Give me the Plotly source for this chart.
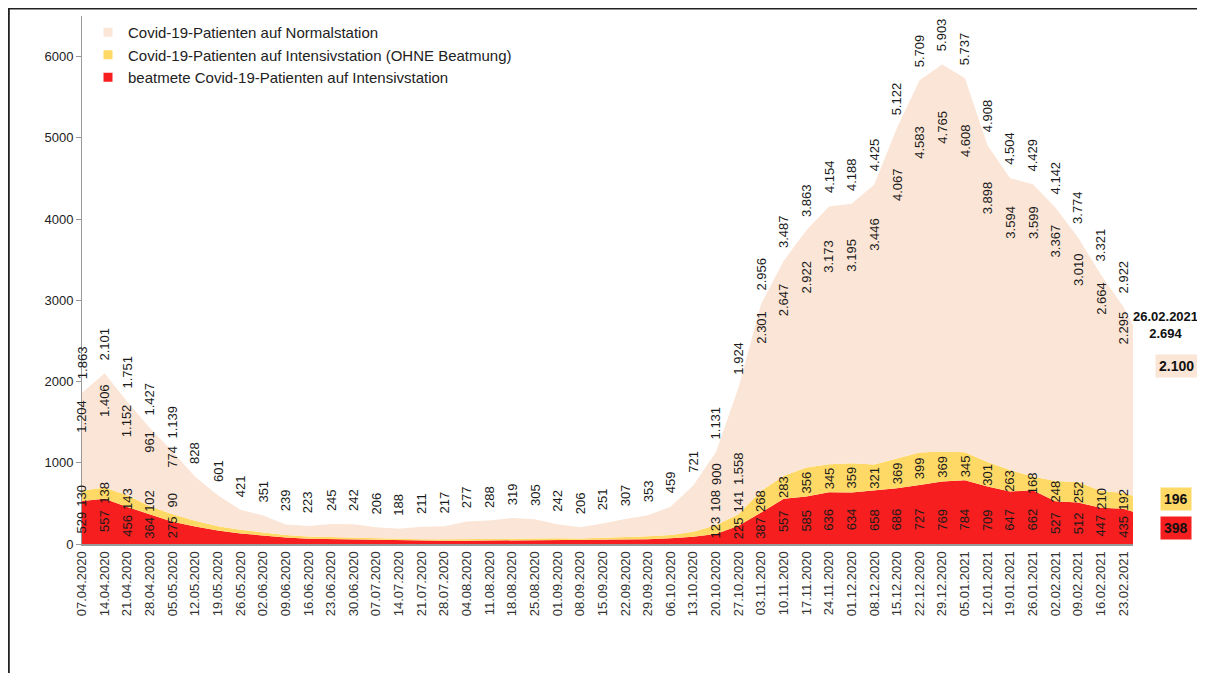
import plotly.graph_objects as go

# ---------------- data ----------------
dates = ["2020-04-07", "2020-04-14", "2020-04-21", "2020-04-28", "2020-05-05",
         "2020-05-12", "2020-05-19", "2020-05-26", "2020-06-02", "2020-06-09",
         "2020-06-16", "2020-06-23", "2020-06-30", "2020-07-07", "2020-07-14",
         "2020-07-21", "2020-07-28", "2020-08-04", "2020-08-11", "2020-08-18",
         "2020-08-25", "2020-09-01", "2020-09-08", "2020-09-15", "2020-09-22",
         "2020-09-29", "2020-10-06", "2020-10-13", "2020-10-20", "2020-10-27",
         "2020-11-03", "2020-11-10", "2020-11-17", "2020-11-24", "2020-12-01",
         "2020-12-08", "2020-12-15", "2020-12-22", "2020-12-29", "2021-01-05",
         "2021-01-12", "2021-01-19", "2021-01-26", "2021-02-02", "2021-02-09",
         "2021-02-16", "2021-02-23", "2021-02-26"]

beatmet = [529, 557, 456, 364, 275,
           215, 165, 130, 105, 80, 65, 60, 55, 50, 45, 40, 40, 40, 42, 45, 45, 45, 45, 48, 55, 60, 70, 90,
           123, 225, 387, 557, 585, 636, 634, 658, 686, 727, 769, 784, 709, 647, 662, 527, 512, 447, 435,
           398]

intensiv_ohne = [130, 138, 143, 102, 90,
                 70, 55, 45, 38, 30, 28, 25, 22, 20, 20, 20, 20, 22, 25, 30, 30, 25, 22, 25, 30, 35, 40, 60,
                 108, 141, 268, 283, 356, 345, 359, 321, 369, 399, 369, 345, 301, 263, 168, 248, 252, 210, 192,
                 196]

normalstation = [1204, 1406, 1152, 961, 774,
                 543, 381, 246, 208, 129, 130, 160, 165, 136, 123, 151, 157, 215, 221, 244, 230, 172, 139,
                 178, 222, 258, 349, 571,
                 900, 1558, 2301, 2647, 2922, 3173, 3195, 3446, 4067, 4583, 4765, 4608, 3898, 3594, 3599,
                 3367, 3010, 2664, 2295,
                 2100]

gesamt = [1863, 2101, 1751, 1427, 1139,
          828, 601, 421, 351, 239, 223, 245, 242, 206, 188, 211, 217, 277, 288, 319, 305, 242, 206, 251,
          307, 353, 459, 721,
          1131, 1924, 2956, 3487, 3863, 4154, 4188, 4425, 5122, 5709, 5903, 5737, 4908, 4504, 4429, 4142,
          3774, 3321, 2922,
          2694]

# which weekly points carry the three detail labels (others show only the total)
detail_labeled = [True] * 5 + [False] * 23 + [True] * 19

tick_dates = dates[:-1]
tick_labels = ["07.04.2020", "14.04.2020", "21.04.2020", "28.04.2020", "05.05.2020", "12.05.2020",
               "19.05.2020", "26.05.2020", "02.06.2020", "09.06.2020", "16.06.2020", "23.06.2020",
               "30.06.2020", "07.07.2020", "14.07.2020", "21.07.2020", "28.07.2020", "04.08.2020",
               "11.08.2020", "18.08.2020", "25.08.2020", "01.09.2020", "08.09.2020", "15.09.2020",
               "22.09.2020", "29.09.2020", "06.10.2020", "13.10.2020", "20.10.2020", "27.10.2020",
               "03.11.2020", "10.11.2020", "17.11.2020", "24.11.2020", "01.12.2020", "08.12.2020",
               "15.12.2020", "22.12.2020", "29.12.2020", "05.01.2021", "12.01.2021", "19.01.2021",
               "26.01.2021", "02.02.2021", "09.02.2021", "16.02.2021", "23.02.2021"]
last_date_label = "26.02.2021"

names = ["beatmete Covid-19-Patienten auf Intensivstation",
         "Covid-19-Patienten auf Intensivstation (OHNE Beatmung)",
         "Covid-19-Patienten auf Normalstation"]

# ---------------- styles ----------------
C_RED = "#F61E1E"
C_YEL = "#FFD966"
C_PEACH = "#FBE5D6"
FONT = "Liberation Sans, Arial, sans-serif"
LAB_SIZE = 13

# page is drawn with an 8px body margin on every side
W, H = 1189, 665
ML, MR, MT, MB = 74, 64, 8, 129
PW = W - ML - MR
PH = H - MT - MB
Y_MAX = 6500
K = PH / Y_MAX  # px per patient


def de(v):
    return f"{v:,}".replace(",", ".")


def text_len(s):
    return sum(0.278 if c == "." else 0.556 for c in s) * LAB_SIZE


fig = go.Figure()
for vals, col, nm in [(beatmet, C_RED, names[0]), (intensiv_ohne, C_YEL, names[1]),
                      (normalstation, C_PEACH, names[2])]:
    fig.add_trace(go.Scatter(x=dates, y=vals, mode="lines", stackgroup="one",
                             line=dict(width=0, color=col), fillcolor=col,
                             name=nm, showlegend=False, hoverinfo="x+y"))

# legend entries with small square markers (listed top to bottom as in original)
for col, nm in [(C_PEACH, names[2]), (C_YEL, names[1]), (C_RED, names[0])]:
    fig.add_trace(go.Scatter(x=[None], y=[None], mode="markers",
                             marker=dict(symbol="square", size=9, color=col),
                             name=nm, showlegend=True))

ann = []
lab_font = dict(family=FONT, size=LAB_SIZE, color="#1a1a1a")
n = len(dates)
for i in range(n - 1):
    d = dates[i]
    ann.append(dict(x=d, y=gesamt[i], xref="x", yref="y", text=de(gesamt[i]), textangle=-90,
                    showarrow=False, yanchor="bottom", xanchor="center", yshift=11, font=lab_font))
    if detail_labeled[i]:
        red_c = min(max(beatmet[i] / 2, 200), 300)
        yel_c = max(beatmet[i] + intensiv_ohne[i] / 2, red_c + 330)
        norm_txt = de(normalstation[i])
        yel_txt = de(intensiv_ohne[i])
        if (gesamt[i] - normalstation[i]) * K < text_len(norm_txt) + 4:
            # no room below the total label: sit just above the ICU label
            ann.append(dict(x=d, y=yel_c, xref="x", yref="y", text=norm_txt,
                            textangle=-90, showarrow=False, yanchor="bottom", xanchor="center",
                            yshift=text_len(yel_txt) / 2 + 3, font=lab_font))
        else:
            ann.append(dict(x=d, y=normalstation[i], xref="x", yref="y", text=norm_txt,
                            textangle=-90, showarrow=False, yanchor="bottom", xanchor="center",
                            yshift=11, font=lab_font))
        ann.append(dict(x=d, y=yel_c, xref="x", yref="y",
                        text=yel_txt, textangle=-90, showarrow=False,
                        yanchor="middle", xanchor="center", font=lab_font))
        ann.append(dict(x=d, y=red_c, xref="x", yref="y",
                        text=de(beatmet[i]), textangle=-90, showarrow=False,
                        yanchor="middle", xanchor="center", font=lab_font))


def px2paper(px):
    return (px - ML) / PW


# final day labels at the right
bold = dict(family=FONT, size=14, color="#111")
ann.append(dict(xref="paper", yref="y", x=px2paper(1157), y=gesamt[-1],
                text=f"<b>{last_date_label}</b><br><b>{de(gesamt[-1])}</b>",
                showarrow=False, xanchor="center", yanchor="middle",
                font=dict(family=FONT, size=13, color="#111")))
ann.append(dict(xref="paper", yref="y", x=px2paper(1168), y=normalstation[-1], yshift=7,
                text=f"<b>{de(normalstation[-1])}</b>", showarrow=False, xanchor="center",
                yanchor="middle", bgcolor=C_PEACH, borderpad=3, font=bold))
ann.append(dict(xref="paper", yref="y", x=px2paper(1168), y=beatmet[-1] + intensiv_ohne[-1] / 2,
                yshift=5, text=f"<b>{de(intensiv_ohne[-1])}</b>", showarrow=False, xanchor="center",
                yanchor="middle", bgcolor=C_YEL, borderpad=3, font=bold))
ann.append(dict(xref="paper", yref="y", x=px2paper(1168), y=beatmet[-1] / 2,
                text=f"<b>{de(beatmet[-1])}</b>", showarrow=False, xanchor="center",
                yanchor="middle", bgcolor=C_RED, borderpad=3, font=bold))

top_y = (PH + MT - 0.5) / PH
fig.update_layout(
    width=W, height=H,
    margin=dict(l=ML, r=MR, t=MT, b=MB),
    paper_bgcolor="white", plot_bgcolor="white",
    font=dict(family=FONT, size=13, color="#222"),
    annotations=ann,
    showlegend=True,
    legend=dict(x=px2paper(80), y=1.0, xanchor="left", yanchor="top", bgcolor="rgba(0,0,0,0)",
                font=dict(family=FONT, size=15, color="#222"), itemwidth=30,
                traceorder="normal", tracegroupgap=0),
    shapes=[
        dict(type="line", xref="paper", yref="paper", x0=px2paper(0), x1=px2paper(W + 5),
             y0=top_y, y1=top_y, line=dict(color="#222", width=2)),
        dict(type="line", xref="paper", yref="paper", x0=px2paper(0.8), x1=px2paper(0.8),
             y0=top_y, y1=-0.5, line=dict(color="#222", width=2)),
    ],
)
fig.update_xaxes(type="date", range=[dates[0], dates[-1]], tickvals=tick_dates, ticktext=tick_labels,
                 tickangle=-90, tickfont=dict(family=FONT, size=13, color="#333"),
                 showline=True, linecolor="#999", linewidth=2, ticks="", showgrid=False,
                 zeroline=False)
fig.update_yaxes(range=[0, Y_MAX], tickvals=[0, 1000, 2000, 3000, 4000, 5000, 6000],
                 ticktext=["0", "1000", "2000", "3000", "4000", "5000", "6000"],
                 ticks="outside", ticklen=5, tickcolor="#999",
                 tickfont=dict(family=FONT, size=13, color="#222"),
                 showline=True, linecolor="#999", linewidth=1, showgrid=False, zeroline=False)

fig.write_html("out.html", config={"displayModeBar": False})
